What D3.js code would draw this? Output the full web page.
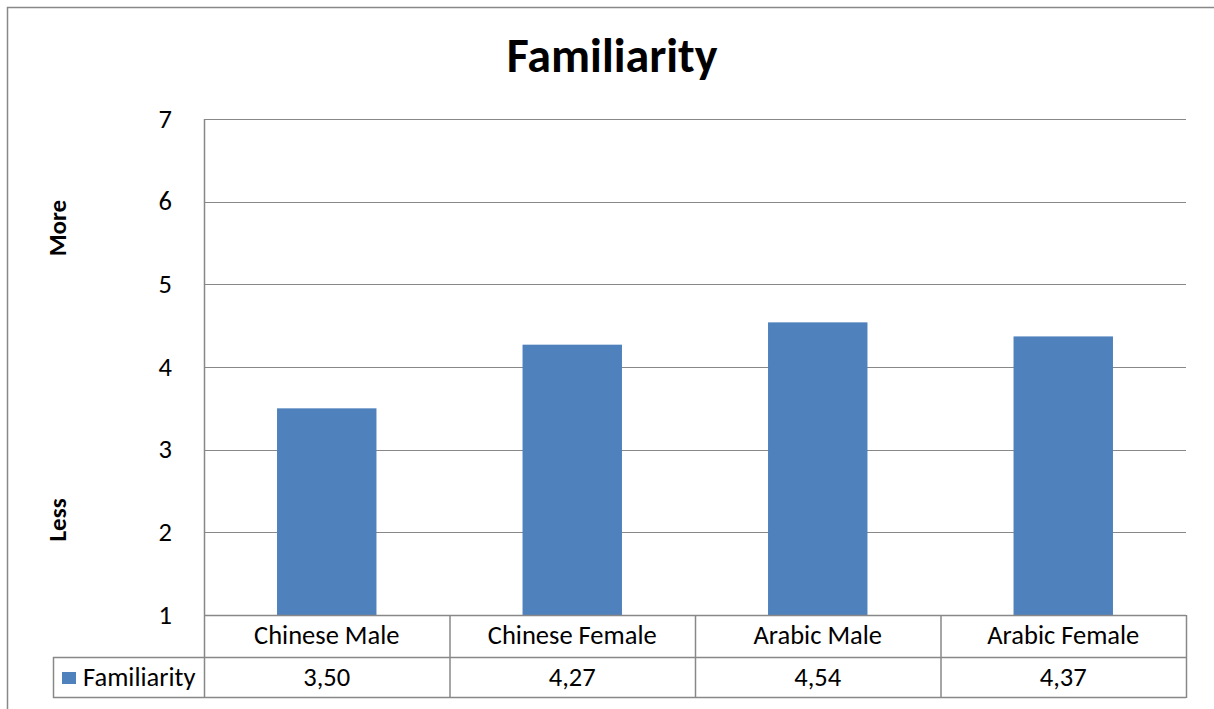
<!DOCTYPE html>
<html>
<head>
<meta charset="utf-8">
<script src="https://cdn.jsdelivr.net/npm/d3@7"></script>
<style>
  html, body { margin: 0; padding: 0; background: #fff; }
  svg { display: block; }
  text { font-family: Carlito, Calibri, Lato, "Open Sans", sans-serif; fill: #000; }
</style>
</head>
<body>
<svg id="chart" width="1214" height="709"></svg>
<script>
// Chart data
const title = "Familiarity";
const seriesName = "Familiarity";
const categories = ["Chinese Male", "Chinese Female", "Arabic Male", "Arabic Female"];
const values = [3.50, 4.27, 4.54, 4.37];
const yTicks = [1, 2, 3, 4, 5, 6, 7];
const axisNotes = [{ text: "More", at: 5.68 }, { text: "Less", at: 2.15 }];

const W = 1214, H = 709;
const plot = { left: 204, right: 1186, top: 119, bottom: 615 };
const rowH = [42, 40];           // category row, value row
const legendLeft = 53;
const gridColor = "#888888";
const barColor = "#4f81bd";
const textSize = 26.5;

const svg = d3.select("#chart");

svg.append("rect").attr("width", W).attr("height", H).attr("fill", "#fff");

// Outer chart frame (continues past the right and bottom edges)
svg.append("path")
  .attr("d", `M7.5,${H + 5}V7.5H${W + 5}`)
  .attr("fill", "none").attr("stroke", gridColor).attr("stroke-width", 1.5);

const x = d3.scaleBand().domain(categories).range([plot.left, plot.right]).paddingInner(0).paddingOuter(0);
const y = d3.scaleLinear().domain([1, 7]).range([plot.bottom, plot.top]);

// Horizontal gridlines
svg.append("g").selectAll("line").data(yTicks).join("line")
  .attr("x1", plot.left).attr("x2", plot.right)
  .attr("y1", d => Math.round(y(d)) + 0.5).attr("y2", d => Math.round(y(d)) + 0.5)
  .attr("stroke", gridColor).attr("stroke-width", 1.2);

// Y tick labels
const yAxis = d3.axisLeft(y).tickValues(yTicks).tickSize(0).tickPadding(0).tickFormat(d3.format("d"));
const yg = svg.append("g").attr("transform", `translate(${plot.left - 32},0)`).call(yAxis);
yg.select(".domain").remove();
yg.selectAll("text").attr("font-size", textSize).attr("font-family", null).attr("dy", "0.31em");

// Side notes
svg.append("g").selectAll("text").data(axisNotes).join("text")
  .attr("transform", d => `translate(66,${y(d.at)}) rotate(-90)`)
  .attr("text-anchor", "middle")
  .attr("font-size", 25).attr("font-weight", "bold")
  .text(d => d.text);

// Bars
const barW = x.bandwidth() * 0.405;
svg.append("g").selectAll("rect").data(values).join("rect")
  .attr("x", (d, i) => x(categories[i]) + (x.bandwidth() - barW) / 2)
  .attr("y", d => y(d))
  .attr("width", barW)
  .attr("height", d => y(1) - y(d))
  .attr("fill", barColor);

// Left axis line
svg.append("line")
  .attr("x1", plot.left + 0.5).attr("x2", plot.left + 0.5)
  .attr("y1", plot.top).attr("y2", plot.bottom + rowH[0] + rowH[1])
  .attr("stroke", gridColor).attr("stroke-width", 1.5);

// Data table
const t0 = plot.bottom, t1 = t0 + rowH[0], t2 = t1 + rowH[1];
const table = svg.append("g").attr("stroke", gridColor).attr("stroke-width", 1.5);
table.append("line").attr("x1", plot.left).attr("x2", plot.right).attr("y1", t0 + 0.5).attr("y2", t0 + 0.5);
table.append("line").attr("x1", legendLeft).attr("x2", plot.right).attr("y1", t1 + 0.5).attr("y2", t1 + 0.5);
table.append("line").attr("x1", legendLeft).attr("x2", plot.right).attr("y1", t2 + 0.5).attr("y2", t2 + 0.5);
table.append("line").attr("x1", legendLeft + 0.5).attr("x2", legendLeft + 0.5).attr("y1", t1).attr("y2", t2 + 1);
table.selectAll(".col").data(categories).join("line").attr("class", "col")
  .attr("x1", d => x(d) + x.bandwidth() + 0.5).attr("x2", d => x(d) + x.bandwidth() + 0.5)
  .attr("y1", t0).attr("y2", t2 + 1);

svg.append("g").selectAll("text").data(categories).join("text")
  .attr("x", d => x(d) + x.bandwidth() / 2)
  .attr("y", t0 + 29)
  .attr("text-anchor", "middle").attr("font-size", textSize)
  .text(d => d);

const fmt = v => d3.format(".2f")(v).replace(".", ",");
svg.append("g").selectAll("text").data(values).join("text")
  .attr("x", (d, i) => x(categories[i]) + x.bandwidth() / 2)
  .attr("y", t1 + 29)
  .attr("text-anchor", "middle").attr("font-size", textSize)
  .text(d => fmt(d));

// Legend key
svg.append("rect").attr("x", 62).attr("y", t1 + 15).attr("width", 14).attr("height", 12).attr("fill", barColor);
svg.append("text").attr("x", 83).attr("y", t1 + 29).attr("font-size", textSize).text(seriesName);

// Title
svg.append("text")
  .attr("x", 612).attr("y", 72)
  .attr("text-anchor", "middle")
  .attr("font-size", 48).attr("font-weight", "bold")
  .text(title);
</script>
</body>
</html>
